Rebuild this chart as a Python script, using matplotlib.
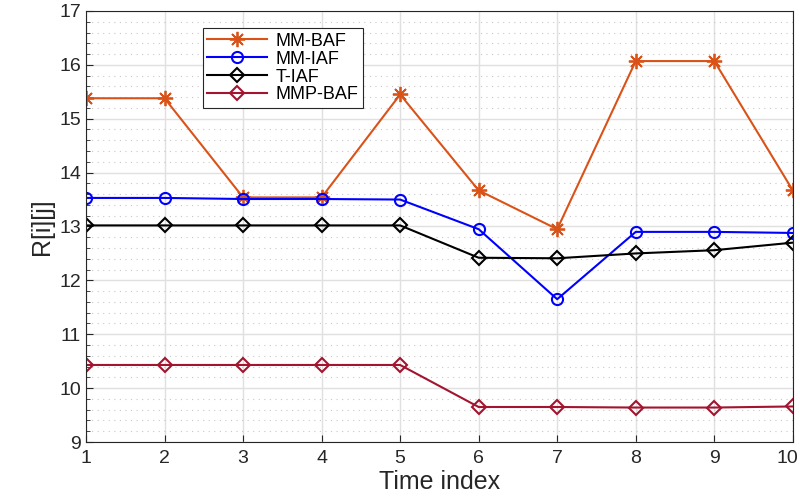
import matplotlib.pyplot as plt
import matplotlib.transforms as mtransforms
import numpy as np
from matplotlib.ticker import MultipleLocator

plt.rcParams['font.family'] = ['Liberation Sans', 'DejaVu Sans']

# data
t = np.arange(1, 11)
mm_baf = [15.38, 15.38, 13.54, 13.54, 15.45, 13.67, 12.95, 16.07, 16.07, 13.67]
mm_iaf = [13.53, 13.53, 13.51, 13.51, 13.50, 12.95, 11.65, 12.90, 12.90, 12.88]
t_iaf = [13.02, 13.02, 13.02, 13.02, 13.02, 12.42, 12.41, 12.50, 12.56, 12.70]
mmp_baf = [10.43, 10.43, 10.43, 10.43, 10.43, 9.65, 9.65, 9.64, 9.64, 9.66]

fig = plt.figure(figsize=(8, 4.98), dpi=100)
ax = fig.add_axes([0.1075, 0.1124, 0.8835, 0.8656])

ax.plot(t, mm_baf, color='#D95319', lw=1.5, marker=(8, 2, 0), ms=11, mew=1.3, label='MM-BAF')
ax.plot(t, mm_iaf, color='#0000FF', lw=1.5, marker='o', ms=8, mfc='none', mew=1.5, label='MM-IAF')
ax.plot(t, t_iaf, color='black', lw=1.5, marker='D', ms=7, mfc='none', mew=1.5, label='T-IAF')
ax.plot(t, mmp_baf, color='#A2142F', lw=1.5, marker='D', ms=7, mfc='none', mew=1.5, label='MMP-BAF')

ax.set_xlim(1, 10)
ax.set_ylim(9, 17)
ax.set_xticks(t)
ax.yaxis.set_minor_locator(MultipleLocator(0.2))
ax.grid(True, which='major', color='#e0e0e0', lw=1)
ax.grid(True, which='minor', axis='y', color='#c8c8c8', lw=0.8, ls=(0, (1, 4)))
ax.set_axisbelow(True)
ax.tick_params(direction='in', which='both', labelsize=14, colors='#262626', top=False, right=False)
ax.tick_params(which='minor', length=3)
ax.tick_params(which='major', length=5)
ax.tick_params(axis='x', pad=6)
for s in ax.spines.values():
    s.set_color('#262626')

# keep the last x label inside the figure
fig.canvas.draw()
last = ax.get_xticklabels()[-1]
last.set_transform(last.get_transform() + mtransforms.ScaledTranslation(-5 / 100, 0, fig.dpi_scale_trans))

ax.set_xlabel('Time index', fontsize=18, color='#262626', labelpad=2)
ax.set_ylabel('R[i][j]', fontsize=18, color='#262626', labelpad=4)

leg = ax.legend(loc='upper left', bbox_to_anchor=(0.165, 0.96), fontsize=13, borderaxespad=0,
                frameon=True, fancybox=False, edgecolor='#262626', framealpha=1,
                handlelength=3.3, borderpad=0.25, labelspacing=0.05, handletextpad=0.5)
leg.get_frame().set_linewidth(0.8)

fig.savefig('out.png', dpi=100)
